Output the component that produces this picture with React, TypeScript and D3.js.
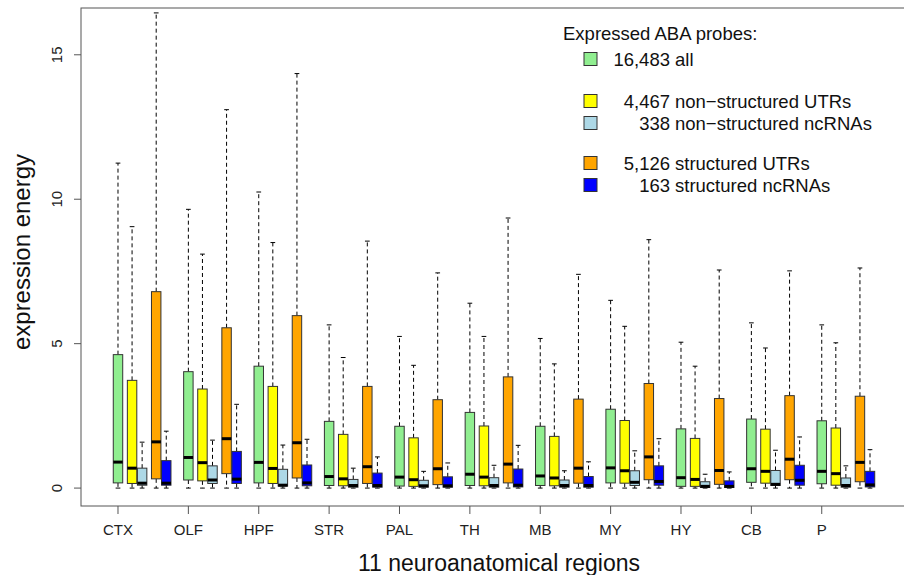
import React from 'react';
import * as d3 from 'd3';

const regions = ['CTX', 'OLF', 'HPF', 'STR', 'PAL', 'TH', 'MB', 'MY', 'HY', 'CB', 'P'];

// five-number summaries per region: [min, q1, median, q3, max]
const allProbes = [
  [0, 0.18, 0.9, 4.62, 11.25],
  [0, 0.28, 1.06, 4.03, 9.65],
  [0, 0.18, 0.89, 4.22, 10.25],
  [0, 0.09, 0.4, 2.31, 5.65],
  [0, 0.07, 0.38, 2.14, 5.25],
  [0, 0.09, 0.48, 2.62, 6.4],
  [0, 0.09, 0.42, 2.14, 5.18],
  [0, 0.18, 0.7, 2.73, 6.5],
  [0, 0.06, 0.36, 2.05, 5.05],
  [0, 0.2, 0.67, 2.39, 5.72],
  [0, 0.15, 0.58, 2.33, 5.65],
];
const nsUTRs = [
  [0, 0.16, 0.69, 3.73, 9.05],
  [0, 0.25, 0.88, 3.43, 8.1],
  [0, 0.16, 0.68, 3.52, 8.5],
  [0, 0.08, 0.32, 1.86, 4.52],
  [0, 0.06, 0.29, 1.74, 4.25],
  [0, 0.08, 0.38, 2.15, 5.25],
  [0, 0.08, 0.35, 1.79, 4.3],
  [0, 0.17, 0.6, 2.34, 5.6],
  [0, 0.06, 0.3, 1.72, 4.22],
  [0, 0.17, 0.58, 2.04, 4.85],
  [0, 0.1, 0.5, 2.08, 5.03],
];
const nsNcRNAs = [
  [0, 0.1, 0.17, 0.69, 1.59],
  [0, 0.16, 0.28, 0.77, 1.66],
  [0, 0.07, 0.1, 0.65, 1.49],
  [0, 0.03, 0.09, 0.3, 0.69],
  [0, 0.03, 0.08, 0.27, 0.58],
  [0, 0.03, 0.09, 0.36, 0.79],
  [0, 0.03, 0.09, 0.28, 0.6],
  [0, 0.09, 0.2, 0.6, 1.29],
  [0, 0.02, 0.06, 0.22, 0.48],
  [0, 0.09, 0.13, 0.61, 1.31],
  [0, 0.03, 0.09, 0.35, 0.77],
];
const sUTRs = [
  [0, 0.32, 1.6, 6.8, 16.45],
  [0, 0.5, 1.71, 5.55, 13.1],
  [0, 0.35, 1.57, 5.97, 14.35],
  [0, 0.16, 0.74, 3.52, 8.55],
  [0, 0.12, 0.67, 3.06, 7.45],
  [0, 0.18, 0.83, 3.85, 9.35],
  [0, 0.17, 0.69, 3.08, 7.4],
  [0, 0.29, 1.08, 3.62, 8.6],
  [0, 0.13, 0.61, 3.1, 7.55],
  [0, 0.29, 1.0, 3.2, 7.52],
  [0, 0.22, 0.89, 3.18, 7.62],
];
const sNcRNAs = [
  [0, 0.1, 0.17, 0.95, 1.97],
  [0, 0.16, 0.31, 1.27, 2.9],
  [0, 0.08, 0.18, 0.8, 1.69],
  [0, 0.03, 0.09, 0.52, 1.08],
  [0, 0.03, 0.08, 0.39, 0.87],
  [0, 0.04, 0.1, 0.66, 1.48],
  [0, 0.03, 0.09, 0.4, 0.91],
  [0, 0.1, 0.23, 0.77, 1.71],
  [0, 0.02, 0.06, 0.25, 0.56],
  [0, 0.1, 0.27, 0.79, 1.77],
  [0, 0.04, 0.11, 0.58, 1.33],
];

const yTicks = [0, 5, 10, 15];
const legendCounts = ['16,483', '4,467', '338', '5,126', '163'];
const legendNames = ['all', 'non\u2212structured UTRs', 'non\u2212structured ncRNAs', 'structured UTRs', 'structured ncRNAs'];

const series = [allProbes, nsUTRs, nsNcRNAs, sUTRs, sNcRNAs];
const colors = ['#90ee90', '#ffff00', '#add8e6', '#ffa500', '#0000ff'];
const offsets = [0, 1.4, 2.4, 3.8, 4.8];
const groupStep = 7;
const legendRows = [59, 101, 123, 163, 185];

const W = 904;
const H = 575;
const font = '"Liberation Sans", Arial, Helvetica, sans-serif';

export default function App() {
  const x = d3.scaleLinear().domain([-3.68, 78.48]).range([81, 907]);
  const y = d3.scaleLinear().domain([-0.62, 16.62]).range([506, 8]);
  const bw = x(0.94) - x(0);
  const cap = bw * 0.5;

  return (
    <svg width={W} height={H} style={{ position: 'absolute', left: 0, top: 0, background: '#fff' }} fontFamily={font}>
      <rect x={81} y={8} width={826} height={498} fill="none" stroke="#555" strokeWidth={1} />

      {series.map((data, s) =>
        data.map((d, i) => {
          const cx = x(i * groupStep + offsets[s]);
          const [mn, q1, md, q3, mx] = d;
          return (
            <g key={`${s}-${i}`}>
              <line x1={cx} x2={cx} y1={y(q3)} y2={y(mx)} stroke="#000" strokeDasharray="4,3" />
              <line x1={cx} x2={cx} y1={y(q1)} y2={y(mn)} stroke="#000" strokeDasharray="4,3" />
              <line x1={cx - cap / 2} x2={cx + cap / 2} y1={y(mx)} y2={y(mx)} stroke="#000" />
              <line x1={cx - cap / 2} x2={cx + cap / 2} y1={y(mn)} y2={y(mn)} stroke="#000" />
              <rect x={cx - bw / 2} y={y(q3)} width={bw} height={y(q1) - y(q3)} fill={colors[s]} stroke="#333" strokeWidth={1} />
              <line x1={cx - bw / 2} x2={cx + bw / 2} y1={y(md)} y2={y(md)} stroke="#000" strokeWidth={3} />
            </g>
          );
        })
      )}

      {yTicks.map((t) => (
        <g key={t}>
          <line x1={74} x2={81} y1={y(t)} y2={y(t)} stroke="#555" />
          <text transform={`translate(62,${y(t)}) rotate(-90)`} textAnchor="middle" fontSize={15} fill="#222">
            {t}
          </text>
        </g>
      ))}

      {regions.map((r, i) => {
        const cx = x(i * groupStep);
        return (
          <g key={r}>
            <line x1={cx} x2={cx} y1={506} y2={514} stroke="#555" />
            <text x={cx} y={535} textAnchor="middle" fontSize={15} fill="#222">
              {r}
            </text>
          </g>
        );
      })}

      <text transform="translate(30,252) rotate(-90)" textAnchor="middle" fontSize={24} fill="#111">
        expression energy
      </text>
      <text x={499} y={571} textAnchor="middle" fontSize={23} fill="#111">
        11 neuroanatomical regions
      </text>

      <text x={563} y={40} fontSize={18.5} fill="#111">
        Expressed ABA probes:
      </text>
      {legendCounts.map((c, i) => (
        <g key={c}>
          <rect x={584} y={legendRows[i] - 6.5} width={13} height={13} fill={colors[i]} stroke="#333" />
          <text x={670} y={legendRows[i] + 6.5} textAnchor="end" fontSize={18.5} fill="#111">
            {c}
          </text>
          <text x={675} y={legendRows[i] + 6.5} fontSize={18.5} fill="#111">
            {legendNames[i]}
          </text>
        </g>
      ))}
    </svg>
  );
}
